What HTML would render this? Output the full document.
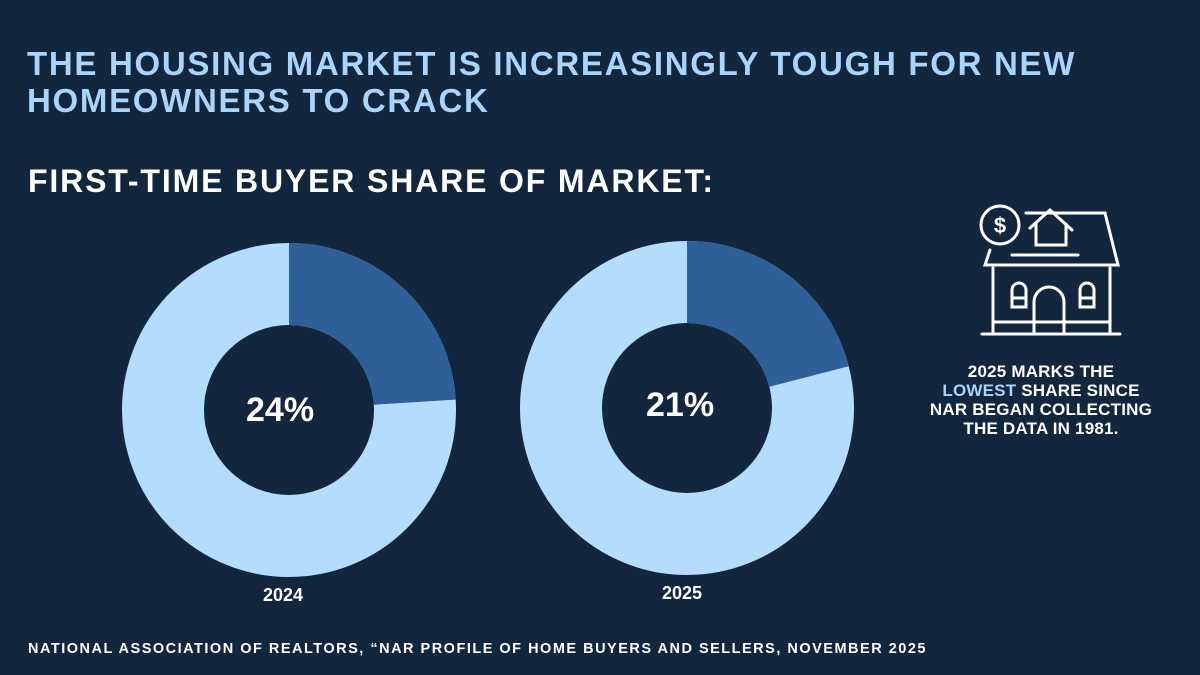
<!DOCTYPE html>
<html><head><style>
body{margin:0;width:1200px;height:675px;background:#12263d;overflow:hidden;font-family:"Liberation Sans",sans-serif;font-weight:bold;position:relative}
.t{position:absolute;left:27px;color:#a9d5fc;font-size:33px;line-height:37px;top:45px;letter-spacing:1.7px}
.s{position:absolute;left:28px;top:163px;color:#fff;font-size:32px;letter-spacing:1.85px}
.p{position:absolute;color:#fff;font-size:34px}
.y{position:absolute;color:#fff;font-size:18px}
.n{position:absolute;left:923px;top:362px;width:236px;text-align:center;color:#fff;font-size:17px;line-height:19px;letter-spacing:.2px}
.f{position:absolute;left:28px;top:641px;color:#fff;font-size:14.5px;letter-spacing:1.5px}
</style></head><body>
<div class="t">THE HOUSING MARKET IS INCREASINGLY TOUGH FOR NEW<br>HOMEOWNERS TO CRACK</div>
<div class="s">FIRST-TIME BUYER SHARE OF MARKET:</div>
<svg width="1200" height="675" style="position:absolute;left:0;top:0">
<g transform="translate(289,410)">
<circle r="126" fill="none" stroke="#b3dcfd" stroke-width="82"/>
<circle r="126" fill="none" stroke="#2e5f98" stroke-width="82" stroke-dasharray="190 1000" transform="rotate(-90)"/>
</g>
<g transform="translate(687,408)">
<circle r="126" fill="none" stroke="#b3dcfd" stroke-width="82"/>
<circle r="126" fill="none" stroke="#2e5f98" stroke-width="82" stroke-dasharray="166 1000" transform="rotate(-90)"/>
</g>
<g fill="none" stroke="#fff" stroke-width="3" stroke-linecap="round">
<circle cx="1000" cy="225" r="19"/>
<text x="1000" y="233" fill="#fff" stroke="none" font-size="22" text-anchor="middle" font-family="Liberation Sans">$</text>
<path d="M1026 213H1105L1118 265H985L990 250"/>
<path d="M1030 228L1050 210L1072 230M1036 224V245H1066V224"/>
<path d="M1012 255H1078"/>
<path d="M993 268V333M1110 268V333"/>
<path d="M982 334H1120"/>
<path d="M993 322H1110"/>
<path d="M1034 333V302A15 15 0 0 1 1064 302V333"/>
<path d="M1012 307V290A7 7 0 0 1 1026 290V307ZM1012 298H1026"/>
<path d="M1080 307V290A7 7 0 0 1 1094 290V307ZM1080 298H1094"/>
</g>
</svg>
<div class="p" style="left:246px;top:391px">24%</div>
<div class="p" style="left:646px;top:386px">21%</div>
<div class="y" style="left:263px;top:585px">2024</div>
<div class="y" style="left:662px;top:583px">2025</div>
<div class="n">2025 MARKS THE<br><span style="color:#a9d5fc">LOWEST</span> SHARE SINCE<br>NAR BEGAN COLLECTING<br>THE DATA IN 1981.</div>
<div class="f">NATIONAL ASSOCIATION OF REALTORS, “NAR PROFILE OF HOME BUYERS AND SELLERS, NOVEMBER 2025</div>
</body></html>
